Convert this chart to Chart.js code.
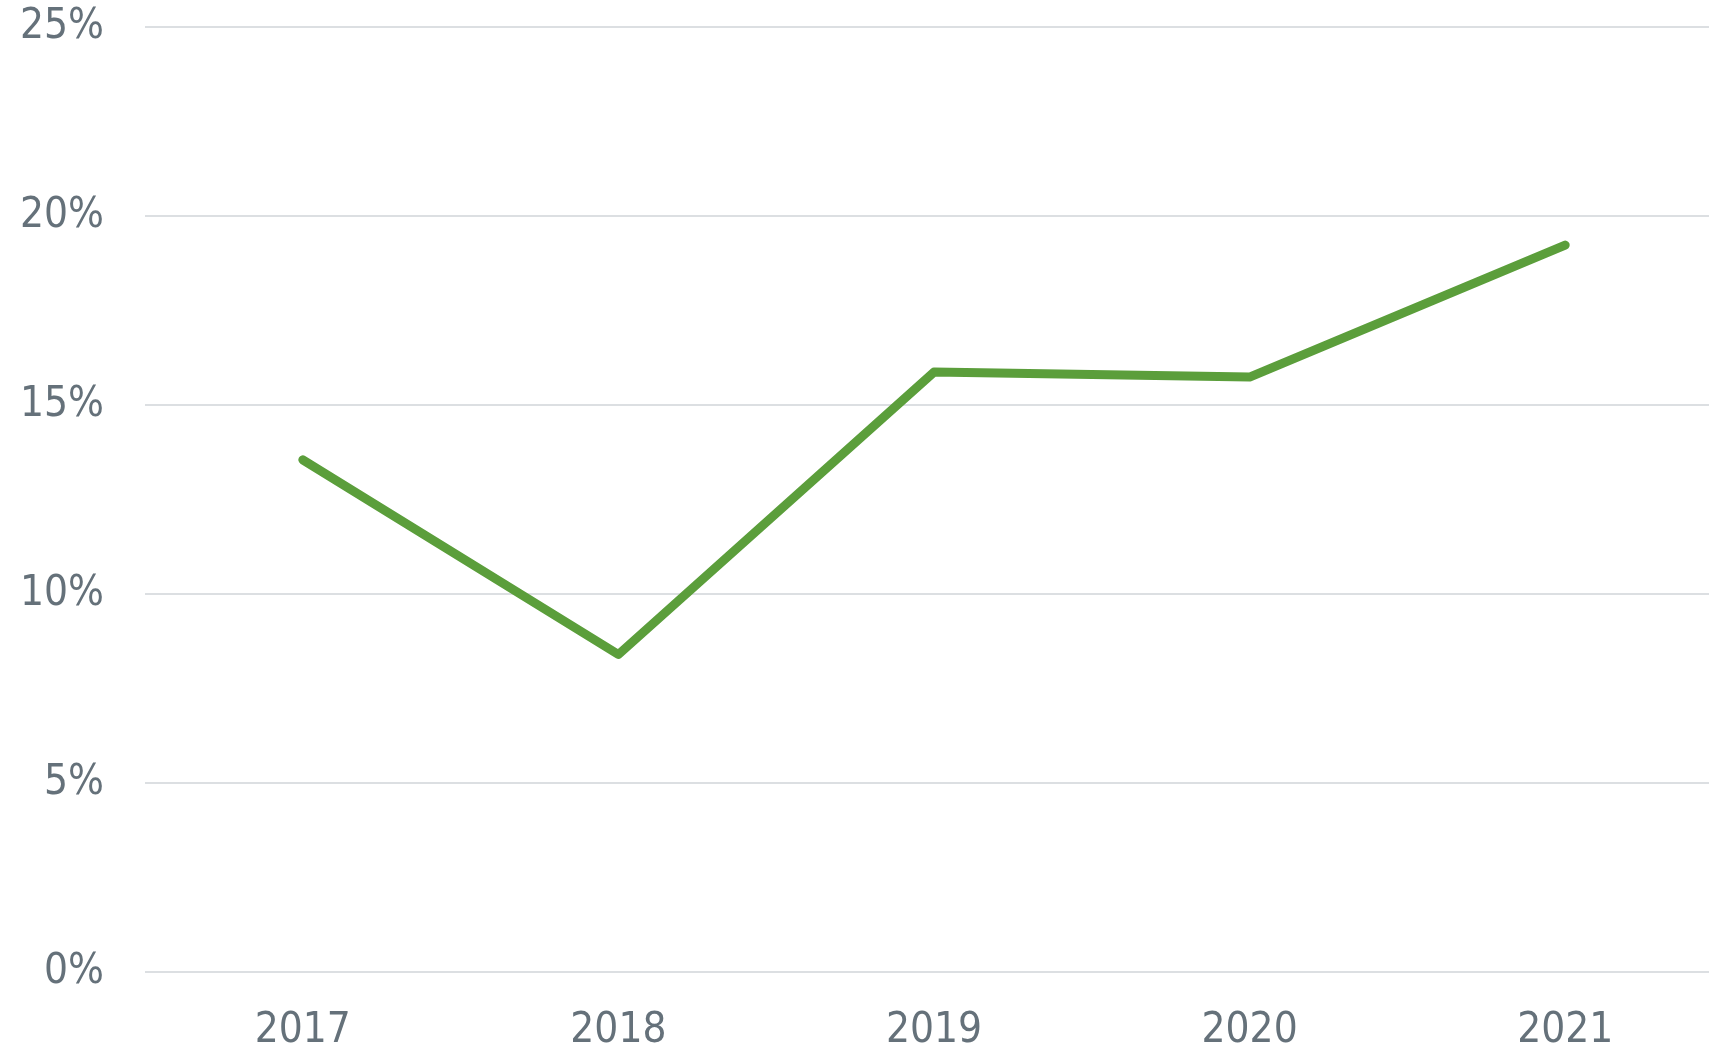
<!DOCTYPE html>
<html>
<head>
<meta charset="utf-8">
<script src="https://cdn.jsdelivr.net/npm/chart.js@4"></script>
<style>
    html, body { margin: 0; padding: 0; background: #fff; overflow: hidden; }
    #wrap { position: relative; width: 1723px; height: 1051px; }
</style>
</head>
<body>
<div id="wrap"><canvas id="chart"></canvas></div>
<script>
const years = ['2017', '2018', '2019', '2020', '2021'];
const rates = [13.55, 8.4, 15.87, 15.74, 19.23];
const yTicks = [0, 5, 10, 15, 20, 25];

const textColor = '#65717a';
const labelFont = { family: '"DejaVu Sans Condensed", "DejaVu Sans", sans-serif', size: 42 };

const ctx = document.getElementById('chart').getContext('2d');
new Chart(ctx, {
    type: 'line',
    data: {
        labels: years,
        datasets: [{
            data: rates,
            borderColor: '#5b9e3b',
            borderWidth: 9,
            borderCapStyle: 'round',
            borderJoinStyle: 'round',
            pointRadius: 0,
            tension: 0
        }]
    },
    options: {
        responsive: true,
        maintainAspectRatio: false,
        animation: false,
        layout: { padding: { top: 27, right: 0, bottom: 0, left: 0 } },
        plugins: {
            legend: { display: false },
            tooltip: { enabled: false }
        },
        scales: {
            x: {
                offset: true,
                grid: { display: false, drawTicks: false },
                border: { display: false },
                ticks: { color: textColor, font: labelFont, padding: 34, maxRotation: 0 },
                afterFit: (scale) => {
                    scale.height = 79;
                    scale.paddingLeft = 0;
                    scale.paddingRight = 0;
                }
            },
            y: {
                min: 0,
                max: 25,
                afterBuildTicks: (scale) => {
                    scale.ticks = yTicks.map(v => ({ value: v }));
                },
                grid: { color: '#dcdfe2', lineWidth: 2, drawTicks: false },
                border: { display: false },
                ticks: {
                    color: textColor,
                    font: labelFont,
                    padding: 41,
                    callback: (v) => v + '%'
                },
                afterFit: (scale) => {
                    scale.width = 145;
                    scale.paddingTop = 0;
                    scale.paddingBottom = 0;
                }
            }
        }
    }
});
</script>
</body>
</html>
